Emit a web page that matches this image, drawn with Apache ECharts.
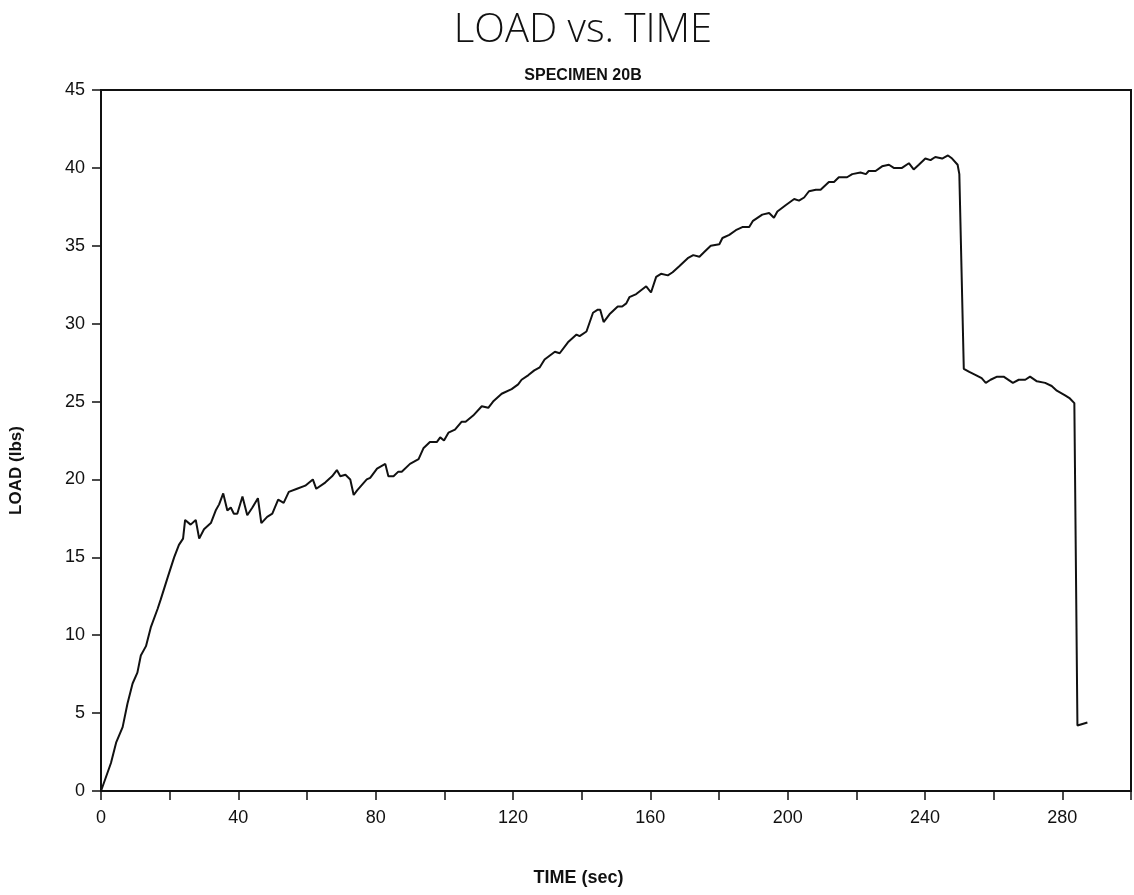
<!DOCTYPE html>
<html>
<head>
<meta charset="utf-8">
<script src="https://cdn.jsdelivr.net/npm/echarts@6/dist/echarts.min.js"></script>
<style>html,body{margin:0;padding:0;background:#fff;}#c{width:1134px;height:895px;}</style>
</head>
<body>
<div id="c"></div>
<script>
const timeSec = [0, 1.3, 2.9, 4.4, 6.3, 7.7, 9.2, 10.6, 11.6, 13.1, 14.5, 16.5, 17.4, 19.4, 21.3, 22.7, 23.9, 24.5, 26.1, 27.6, 28.6, 30.0, 32.0, 33.4, 34.4, 35.6, 36.8, 37.8, 38.7, 39.7, 41.2, 42.6, 44.1, 45.7, 46.7, 48.4, 49.9, 51.6, 53.2, 54.7, 57.1, 59.5, 61.7, 62.7, 65.3, 67.3, 68.7, 69.7, 71.2, 72.6, 73.6, 74.6, 77.4, 78.4, 80.4, 82.8, 83.7, 85.2, 86.6, 87.6, 90.0, 92.5, 93.9, 95.8, 97.8, 98.8, 99.9, 101.2, 103.1, 105.0, 106.2, 108.4, 110.9, 112.8, 114.2, 116.7, 119.6, 121.5, 122.5, 124.5, 126.2, 127.8, 129.2, 132.2, 133.6, 136.0, 138.5, 139.4, 141.4, 143.3, 144.7, 145.4, 146.4, 148.1, 150.5, 151.8, 153.0, 153.9, 155.9, 158.8, 160.2, 161.7, 163.1, 165.1, 166.5, 168.5, 170.9, 172.5, 174.3, 175.7, 177.6, 180.1, 181.0, 183.0, 184.9, 186.8, 188.8, 189.9, 192.6, 194.6, 196.0, 197.0, 199.4, 201.9, 203.3, 204.8, 206.2, 208.2, 209.6, 212.0, 213.5, 214.9, 217.3, 218.8, 221.2, 222.8, 223.6, 225.6, 227.5, 229.5, 230.9, 233.3, 235.3, 236.7, 238.2, 240.1, 241.6, 243.0, 245.0, 246.7, 247.9, 249.5, 250.0, 251.3, 252.9, 254.8, 256.5, 257.7, 259.1, 261.0, 262.9, 265.6, 267.3, 269.2, 270.6, 272.6, 275.0, 276.9, 278.4, 280.8, 282.2, 283.5, 284.4, 287.3];
const loadLbs = [0, 0.8, 1.8, 3.1, 4.1, 5.6, 6.9, 7.6, 8.7, 9.3, 10.5, 11.7, 12.3, 13.7, 15.0, 15.8, 16.2, 17.4, 17.1, 17.4, 16.2, 16.8, 17.2, 18.0, 18.4, 19.1, 18.0, 18.2, 17.8, 17.8, 18.9, 17.7, 18.2, 18.8, 17.2, 17.6, 17.8, 18.7, 18.5, 19.2, 19.4, 19.6, 20.0, 19.4, 19.8, 20.2, 20.6, 20.2, 20.3, 20.0, 19.0, 19.3, 20.0, 20.1, 20.7, 21.0, 20.2, 20.2, 20.5, 20.5, 21.0, 21.3, 22.0, 22.4, 22.4, 22.7, 22.5, 23.0, 23.2, 23.7, 23.7, 24.1, 24.7, 24.6, 25.0, 25.5, 25.8, 26.1, 26.4, 26.7, 27.0, 27.2, 27.7, 28.2, 28.1, 28.8, 29.3, 29.2, 29.5, 30.7, 30.9, 30.9, 30.1, 30.6, 31.1, 31.1, 31.3, 31.7, 31.9, 32.4, 32.0, 33.0, 33.2, 33.1, 33.3, 33.7, 34.2, 34.4, 34.3, 34.6, 35.0, 35.1, 35.5, 35.7, 36.0, 36.2, 36.2, 36.6, 37.0, 37.1, 36.8, 37.2, 37.6, 38.0, 37.9, 38.1, 38.5, 38.6, 38.6, 39.1, 39.1, 39.4, 39.4, 39.6, 39.7, 39.6, 39.8, 39.8, 40.1, 40.2, 40.0, 40.0, 40.3, 39.9, 40.2, 40.6, 40.5, 40.7, 40.6, 40.8, 40.6, 40.2, 39.6, 27.1, 26.9, 26.7, 26.5, 26.2, 26.4, 26.6, 26.6, 26.2, 26.4, 26.4, 26.6, 26.3, 26.2, 26.0, 25.7, 25.4, 25.2, 24.9, 4.2, 4.4];
const titleText = 'LOAD vs. TIME';
const subtitleText = 'SPECIMEN 20B';
const xName = 'TIME (sec)';
const yName = 'LOAD (lbs)';

const chart = echarts.init(document.getElementById('c'), null, {renderer: 'canvas'});
const pts = timeSec.map((t, i) => [t, loadLbs[i]]);
chart.setOption({
  animation: false,
  backgroundColor: '#fff',
  title: [
    {text: titleText, left: 578, textAlign: 'center', top: 6,
     textStyle: {fontFamily: 'Open Sans', fontWeight: 300, fontSize: 40, color: '#111'}},
    {text: subtitleText, left: 578, textAlign: 'center', top: 63,
     textStyle: {fontFamily: 'Liberation Sans Narrow, Liberation Sans', fontWeight: 'bold', fontSize: 16, color: '#111'}}
  ],
  grid: {left: 100, right: 3, top: 90, bottom: 104, show: true, borderColor: '#111', borderWidth: 2, backgroundColor: 'transparent'},
  xAxis: {
    type: 'value', min: 0, max: 300, interval: 20,
    name: xName, nameLocation: 'middle', nameGap: 78,
    nameTextStyle: {fontFamily: 'Liberation Sans', fontWeight: 'bold', fontSize: 18, color: '#111', padding: [0, 75, 0, 0]},
    axisLine: {show: true, lineStyle: {color: '#111', width: 2}},
    axisTick: {show: true, length: 9, lineStyle: {color: '#111', width: 1.5}},
    splitLine: {show: false},
    axisLabel: {margin: 18, fontFamily: 'Liberation Sans', fontSize: 18, color: '#111',
      formatter: v => (v % 40 === 0 && v < 300) ? String(v) : ''}
  },
  yAxis: {
    type: 'value', min: 0, max: 45, interval: 5,
    name: yName, nameLocation: 'middle', nameGap: 76, nameRotate: 90,
    nameTextStyle: {fontFamily: 'Liberation Sans', fontWeight: 'bold', fontSize: 17, color: '#111', padding: [0, 60, 0, 0]},
    axisLine: {show: true, lineStyle: {color: '#111', width: 2}},
    axisTick: {show: true, length: 9, lineStyle: {color: '#111', width: 1.5}},
    splitLine: {show: false},
    axisLabel: {margin: 16, fontFamily: 'Liberation Sans', fontSize: 18, color: '#111'}
  },
  series: [{
    type: 'line', data: pts, showSymbol: false, smooth: false,
    lineStyle: {color: '#111', width: 2}
  }]
});
</script>
</body>
</html>
